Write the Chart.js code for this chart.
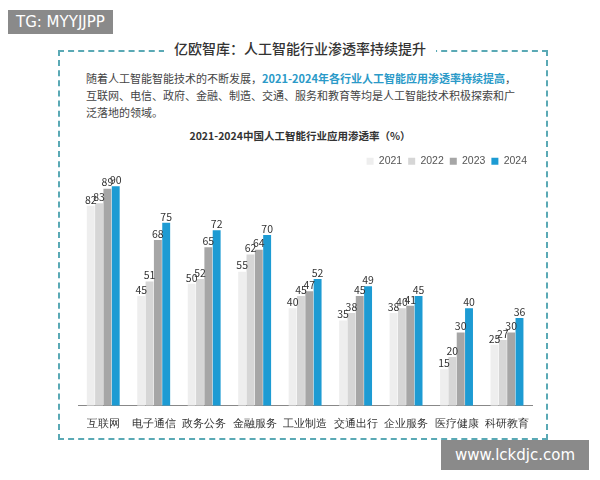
<!DOCTYPE html>
<html><head><meta charset="utf-8">
<script src="https://cdn.jsdelivr.net/npm/chart.js@4"></script>
<style>
body{margin:0;width:600px;height:480px;background:#fff;font-family:"Noto Sans CJK SC",sans-serif;position:relative;overflow:hidden}
#box{position:absolute;left:58px;top:50px;width:486px;height:386px;border:2px dashed #5aa9b5}
#title{position:absolute;left:0;width:600px;top:38px;text-align:center;font-size:14px;color:#333;font-weight:500}
#title span{background:#fff;padding:0 10px}
#para{position:absolute;left:86px;top:70px;width:432px;font-size:11px;line-height:17px;color:#444}
#para b{color:#2b9ac8}
#ctitle{position:absolute;left:0;width:600px;top:128px;text-align:center;font-size:10.5px;font-weight:bold;color:#333}
#wrap{position:absolute;left:78px;top:150px;width:455px;height:285px}
.tag{position:absolute;background:#8a8a8a;color:#fff;font-family:"DejaVu Sans",sans-serif}
</style></head><body>
<div id="box"></div>
<div id="title"><span>亿欧智库：人工智能行业渗透率持续提升</span></div>
<div id="para">随着人工智能智能技术的不断发展，<b>2021-2024年各行业人工智能应用渗透率持续提高</b>，互联网、电信、政府、金融、制造、交通、服务和教育等均是人工智能技术积极探索和广泛落地的领域。</div>
<div id="ctitle">2021-2024中国人工智能行业应用渗透率（%）</div>
<div id="wrap"><canvas id="c"></canvas></div>
<div class="tag" style="left:8px;top:10px;padding:3px 8px;font-size:15px">TG: MYYJJPP</div>
<div class="tag" style="left:441px;top:440px;width:148px;height:30px;line-height:30px;text-align:center;font-size:15px">www.lckdjc.com</div>
<script>
const categories = ['互联网','电子通信','政务公务','金融服务','工业制造','交通出行','企业服务','医疗健康','科研教育'];
const years = ['2021','2022','2023','2024'];
const v2021 = [82,45,50,55,40,35,38,15,25];
const v2022 = [83,51,52,62,45,38,40,20,27];
const v2023 = [89,68,65,64,47,45,41,30,30];
const v2024 = [90,75,72,70,52,49,45,40,36];
const colors = ['#eeeeee','#d6d6d6','#a6a6a6','#1d9bd3'];
const series = [v2021,v2022,v2023,v2024];

const labelPlugin = {
  id:'lbl',
  afterDatasetsDraw(chart){
    const ctx = chart.ctx;
    ctx.save();
    ctx.font = '10.5px "Noto Sans CJK SC"';
    ctx.fillStyle = '#333';
    ctx.textAlign = 'center';
    ctx.textBaseline = 'bottom';
    chart.data.datasets.forEach((ds,i)=>{
      chart.getDatasetMeta(i).data.forEach((b,j)=>{
        ctx.fillText(ds.data[j], b.x, b.y-1);
      });
    });
    ctx.restore();
  }
};

new Chart(document.getElementById('c'), {
  type:'bar',
  data:{labels:categories, datasets: series.map((d,i)=>({label:years[i],data:d,backgroundColor:colors[i],categoryPercentage:0.66,barPercentage:0.95}))},
  options:{
    responsive:true, maintainAspectRatio:false, animation:false,
    plugins:{
      legend:{align:'end',labels:{boxWidth:7,boxHeight:7,padding:6,font:{size:10.5},color:'#555'}},
      tooltip:{enabled:false}
    },
    scales:{
      y:{display:false,min:0,max:94},
      x:{grid:{display:false},border:{color:'#888'},ticks:{color:'#333',font:{size:11},padding:4}}
    }
  },
  plugins:[labelPlugin]
});
</script>
</body></html>
